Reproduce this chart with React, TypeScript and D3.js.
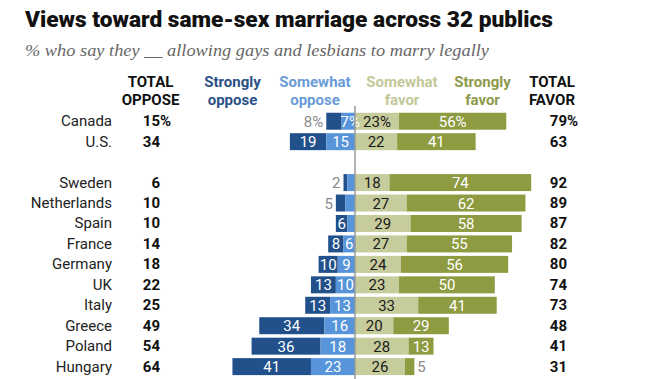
import React from "react";
import * as d3 from "d3";

const countries = ["Canada", "U.S.", "Sweden", "Netherlands", "Spain", "France", "Germany", "UK", "Italy", "Greece", "Poland", "Hungary"];
const totalOppose = [15, 34, 6, 10, 10, 14, 18, 22, 25, 49, 54, 64];
const stronglyOppose = [8, 19, 2, 5, 6, 8, 10, 13, 13, 34, 36, 41];
const somewhatOppose = [7, 15, 4, 5, 4, 6, 9, 10, 13, 16, 18, 23];
const somewhatFavor = [23, 22, 18, 27, 29, 27, 24, 23, 33, 20, 28, 26];
const stronglyFavor = [56, 41, 74, 62, 58, 55, 56, 50, 41, 29, 13, 5];
const totalFavor = [79, 63, 92, 89, 87, 82, 80, 74, 73, 48, 41, 31];
const headers = [
  { lines: ["TOTAL", "OPPOSE"], key: "to" },
  { lines: ["Strongly", "oppose"], key: "so" },
  { lines: ["Somewhat", "oppose"], key: "mo" },
  { lines: ["Somewhat", "favor"], key: "mf" },
  { lines: ["Strongly", "favor"], key: "sf" },
  { lines: ["TOTAL", "FAVOR"], key: "tf" },
];
const title = "Views toward same-sex marriage across 32 publics";
const subtitle = "% who say they __ allowing gays and lesbians to marry legally";

const C = {
  so: "#21508a",
  mo: "#5894d9",
  mf: "#c7cc9c",
  sf: "#8e9b40",
  soText: "#2c5187",
  moText: "#6a9bd7",
  mfText: "#c3c89a",
  sfText: "#8e9a4a",
};

const SANS = "Roboto, 'Liberation Sans', sans-serif";

export default function App() {
  const slots = ["Canada", "U.S.", "__gap", ...countries.slice(2)];
  const y = d3.scaleBand<string>().domain(slots).range([111, 111 + 13 * 20.45]).paddingInner(0.17).paddingOuter(0.085);
  const k = 1.915;
  const zero = 355;
  const x = d3.scaleLinear().domain([-65, 95]).range([zero - 65 * k, zero + 95 * k]);
  const bw = y.bandwidth();

  const headerX = { to: 150.5, so: 232.5, mo: 315, mf: 402, sf: 482.5, tf: 552 } as Record<string, number>;
  const headerColor = { to: "#111", so: C.soText, mo: C.moText, mf: C.mfText, sf: C.sfText, tf: "#111" } as Record<string, string>;

  const textW = (s: string) => s.length * 8.4;

  const rows = countries.map((c, i) => {
    const yc = (y(c) as number) + bw / 2;
    const pct = i === 0 ? "%" : "";
    const segs = [
      { x0: x(-stronglyOppose[i] - somewhatOppose[i]), x1: x(-somewhatOppose[i]), v: stronglyOppose[i], fill: C.so, txt: "#fff", outer: "left" },
      { x0: x(-somewhatOppose[i]), x1: x(0), v: somewhatOppose[i], fill: C.mo, txt: "#fff", outer: "" },
      { x0: x(0), x1: x(somewhatFavor[i]), v: somewhatFavor[i], fill: C.mf, txt: "#1a1a1a", outer: "" },
      { x0: x(somewhatFavor[i]), x1: x(somewhatFavor[i] + stronglyFavor[i]), v: stronglyFavor[i], fill: C.sf, txt: "#fff", outer: "right" },
    ];
    return { c, i, yc, pct, segs };
  });

  return (
    <svg width={654} height={379} style={{ position: "absolute", left: 0, top: 0, background: "#fff" }}>
      <text x={25} y={27} fontFamily={SANS} fontWeight={900} fontSize={22} fill="#111" textLength={528} lengthAdjust="spacingAndGlyphs">
        {title}
      </text>
      <text x={25} y={56} fontFamily="'Liberation Serif', 'DejaVu Serif', serif" fontStyle="italic" fontSize={17} fill="#666" textLength={464} lengthAdjust="spacingAndGlyphs">
        {subtitle}
      </text>
      {headers.map((h) => (
        <text key={h.key} x={headerX[h.key]} textAnchor="middle" fontFamily={SANS} fontWeight={700} fontSize={15} fill={headerColor[h.key]}>
          <tspan x={headerX[h.key]} y={87}>{h.lines[0]}</tspan>
          <tspan x={headerX[h.key]} y={105}>{h.lines[1]}</tspan>
        </text>
      ))}
      {rows.map((r) => (
        <g key={r.c}>
          <text x={112} y={r.yc + 5} textAnchor="end" fontFamily={SANS} fontSize={15} fill="#222">{r.c}</text>
          <text x={160} y={r.yc + 5} textAnchor="end" fontFamily={SANS} fontWeight={700} fontSize={15} fill="#111">{totalOppose[r.i]}</text>
          {r.pct && <text x={160} y={r.yc + 5} fontFamily={SANS} fontWeight={700} fontSize={15} fill="#111">%</text>}
          <text x={567} y={r.yc + 5} textAnchor="end" fontFamily={SANS} fontWeight={700} fontSize={15} fill="#111">{totalFavor[r.i]}</text>
          {r.pct && <text x={567} y={r.yc + 5} fontFamily={SANS} fontWeight={700} fontSize={15} fill="#111">%</text>}
          {r.segs.map((s, j) => (
            <rect key={j} x={s.x0} y={r.yc - bw / 2} width={s.x1 - s.x0} height={bw} fill={s.fill} />
          ))}
          {r.segs.map((s, j) => {
            const label = `${s.v}${r.pct}`;
            const w = s.x1 - s.x0;
            const fits = textW(label) + 2 <= w;
            if (!fits && s.outer === "left") {
              return <text key={"l" + j} x={s.x0 - 3} y={r.yc + 5.5} textAnchor="end" fontFamily={SANS} fontSize={15} fill="#8a8a8a">{label}</text>;
            }
            if (!fits && s.outer === "right") {
              return <text key={"l" + j} x={s.x1 + 3} y={r.yc + 5.5} fontFamily={SANS} fontSize={15} fill="#8a8a8a">{label}</text>;
            }
            if (!fits && s.v < 6) return null;
            return <text key={"l" + j} x={(s.x0 + s.x1) / 2 + (j === 1 && r.pct ? 2 : 0)} y={r.yc + 5.5} textAnchor="middle" fontFamily={SANS} fontSize={15} fill={s.txt}>{label}</text>;
          })}
        </g>
      ))}
      <line x1={zero} x2={zero} y1={106} y2={379} stroke="#9a9a9a" strokeWidth={1.5} />
    </svg>
  );
}
